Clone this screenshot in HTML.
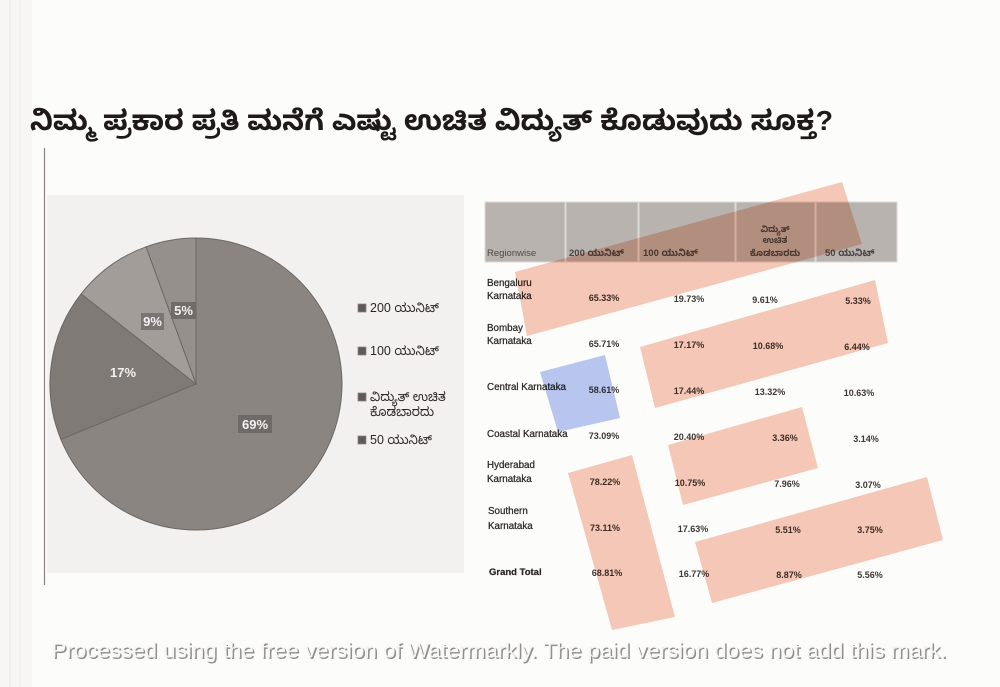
<!DOCTYPE html>
<html>
<head>
<meta charset="utf-8">
<style>
html,body{margin:0;padding:0;background:#fcfcfb;}
svg{display:block;}
.kn{font-family:"Liberation Sans","Noto Sans Kannada","Lohit Kannada","Tunga","Noto Sans CJK SC",sans-serif;}
.lt{font-family:"Liberation Sans",sans-serif;}
</style>
</head>
<body>
<svg width="1000" height="687" viewBox="0 0 1000 687" xmlns="http://www.w3.org/2000/svg">
  <rect x="0" y="0" width="1000" height="687" fill="#fcfcfb"/>
  <!-- faint left edge streaks -->
  <rect x="0" y="0" width="32" height="687" fill="#f7f6f5"/>
  <line x1="10" y1="0" x2="10" y2="687" stroke="#ebe8e6" stroke-width="1"/>
  <line x1="20" y1="0" x2="20" y2="687" stroke="#f0eeec" stroke-width="1"/>

  <!-- Title -->
  <text class="kn" x="30" y="130" font-size="28" font-weight="bold" fill="#1e1a18" textLength="803" lengthAdjust="spacingAndGlyphs">ನಿಮ್ಮ ಪ್ರಕಾರ ಪ್ರತಿ ಮನೆಗೆ ಎಷ್ಟು ಉಚಿತ ವಿದ್ಯುತ್ ಕೊಡುವುದು ಸೂಕ್ತ?</text>

  <!-- left vertical line -->
  <line x1="44.5" y1="148" x2="44.5" y2="585" stroke="#8a8582" stroke-width="1.2"/>

  <!-- pie panel background -->
  <rect x="47" y="195" width="417" height="378" fill="#f3f1ef"/>

  <!-- Pie -->
  <g stroke="#6d6865" stroke-width="1">
    <path d="M196,384 L196,238 A146,146 0 1 1 60.9,439.4 Z" fill="#8a8581"/>
    <path d="M196,384 L60.9,439.4 A146,146 0 0 1 81.1,293.9 Z" fill="#7f7a76"/>
    <path d="M196,384 L81.1,293.9 A146,146 0 0 1 146.1,246.8 Z" fill="#a29d99"/>
    <path d="M196,384 L146.1,246.8 A146,146 0 0 1 196,238 Z" fill="#95908c"/>
  </g>
  <!-- pie labels -->
  <rect x="171" y="302" width="25" height="17" fill="#716c69"/>
  <text class="lt" x="183.5" y="315" font-size="13" font-weight="bold" fill="#f4f2f0" text-anchor="middle">5%</text>
  <rect x="141" y="313" width="23" height="17" fill="#7a7572"/>
  <text class="lt" x="152.5" y="326" font-size="13" font-weight="bold" fill="#f4f2f0" text-anchor="middle">9%</text>
  <text class="lt" x="123" y="377" font-size="13" font-weight="bold" fill="#f4f2f0" text-anchor="middle">17%</text>
  <rect x="238" y="415" width="34" height="18" fill="#6f6a67"/>
  <text class="lt" x="255" y="429" font-size="13" font-weight="bold" fill="#f4f2f0" text-anchor="middle">69%</text>

  <!-- Legend -->
  <g>
    <rect x="358" y="304" width="8" height="8" fill="#5f5a57" stroke="#8a8582" stroke-width="0.8"/>
    <text class="kn" x="370" y="312" font-size="12.5" fill="#2a2624">200 ಯುನಿಟ್</text>
    <rect x="358" y="347" width="8" height="8" fill="#5f5a57" stroke="#8a8582" stroke-width="0.8"/>
    <text class="kn" x="370" y="355" font-size="12.5" fill="#2a2624">100 ಯುನಿಟ್</text>
    <rect x="358" y="393" width="8" height="8" fill="#5f5a57" stroke="#8a8582" stroke-width="0.8"/>
    <text class="kn" x="370" y="401" font-size="12.5" fill="#2a2624">ವಿದ್ಯುತ್ ಉಚಿತ</text>
    <text class="kn" x="370" y="416" font-size="12.5" fill="#2a2624">ಕೊಡಬಾರದು</text>
    <rect x="358" y="436" width="8" height="8" fill="#5f5a57" stroke="#8a8582" stroke-width="0.8"/>
    <text class="kn" x="370" y="444" font-size="12.5" fill="#2a2624">50 ಯುನಿಟ್</text>
  </g>

  <!-- Table header -->
  <g fill="#b8b3af" stroke="#dedad7" stroke-width="1">
    <rect x="485" y="202" width="80" height="60"/>
    <rect x="566" y="202" width="72" height="60"/>
    <rect x="639" y="202" width="96" height="60"/>
    <rect x="736" y="202" width="79" height="60"/>
    <rect x="816" y="202" width="81" height="60"/>
  </g>
  <g class="lt" font-size="9.5" fill="#4e4946">
    <text x="487" y="256">Regionwise</text>
  </g>
  <g class="kn" font-size="9.5" fill="#4a4542" font-weight="bold">
    <text x="569" y="256">200 ಯುನಿಟ್</text>
    <text x="643" y="256">100 ಯುನಿಟ್</text>
    <text x="775" y="232" text-anchor="middle" font-size="8.5">ವಿದ್ಯುತ್</text>
    <text x="775" y="243" text-anchor="middle" font-size="8.5">ಉಚಿತ</text>
    <text x="775" y="256" text-anchor="middle" font-size="9">ಕೊಡಬಾರದು</text>
    <text x="825" y="256">50 ಯುನಿಟ್</text>
  </g>

  <!-- Row labels -->
  <g class="lt" font-size="9.8" fill="#2c2826" stroke="#2c2826" stroke-width="0.25">
    <text x="487" y="286">Bengaluru</text>
    <text x="487" y="299">Karnataka</text>
    <text x="487" y="331">Bombay</text>
    <text x="487" y="344">Karnataka</text>
    <text x="487" y="390">Central Karnataka</text>
    <text x="487" y="437">Coastal Karnataka</text>
    <text x="487" y="468">Hyderabad</text>
    <text x="487" y="482">Karnataka</text>
    <text x="488" y="514">Southern</text>
    <text x="488" y="529">Karnataka</text>
    <text x="489" y="575" font-weight="bold" font-size="9.5">Grand Total</text>
  </g>

  <!-- Values -->
  <g class="lt" font-size="9" font-weight="bold" fill="#3e3835" text-anchor="middle">
    <text x="604" y="301">65.33%</text><text x="689" y="302">19.73%</text><text x="765" y="303">9.61%</text><text x="858" y="304">5.33%</text>
    <text x="604" y="347">65.71%</text><text x="689" y="348">17.17%</text><text x="768" y="349">10.68%</text><text x="857" y="350">6.44%</text>
    <text x="604" y="393">58.61%</text><text x="689" y="394">17.44%</text><text x="770" y="395">13.32%</text><text x="859" y="396">10.63%</text>
    <text x="604" y="439">73.09%</text><text x="689" y="440">20.40%</text><text x="785" y="441">3.36%</text><text x="866" y="442">3.14%</text>
    <text x="605" y="485">78.22%</text><text x="690" y="486">10.75%</text><text x="787" y="487">7.96%</text><text x="868" y="488">3.07%</text>
    <text x="605" y="531">73.11%</text><text x="693" y="532">17.63%</text><text x="788" y="533">5.51%</text><text x="870" y="533">3.75%</text>
    <text x="607" y="576">68.81%</text><text x="694" y="577">16.77%</text><text x="789" y="578">8.87%</text><text x="870" y="578">5.56%</text>
  </g>

  <!-- Highlight overlays -->
  <g style="mix-blend-mode:multiply">
    <polygon points="515,272 842,182 862,244 527,336" fill="#f7cab9"/>
    <polygon points="640,347 875,280 888,343 655,408" fill="#f7cab9"/>
    <polygon points="540,372 605,355 620,418 558,432" fill="#b9c8f3"/>
    <polygon points="668,445 802,407 818,468 683,505" fill="#f7cab9"/>
    <polygon points="568,473 632,455 675,617 612,630" fill="#f7cab9"/>
    <polygon points="695,542 927,477 943,540 712,603" fill="#f7cab9"/>
  </g>

  <!-- Watermark -->
  <text class="lt" x="53" y="659" font-size="21" fill="#858383" textLength="895" lengthAdjust="spacingAndGlyphs" opacity="0.9">Processed using the free version of Watermarkly. The paid version does not add this mark.</text>
  <text class="lt" x="51.5" y="657.5" font-size="21" fill="#f7f6f5" textLength="895" lengthAdjust="spacingAndGlyphs">Processed using the free version of Watermarkly. The paid version does not add this mark.</text>
</svg>
</body>
</html>
